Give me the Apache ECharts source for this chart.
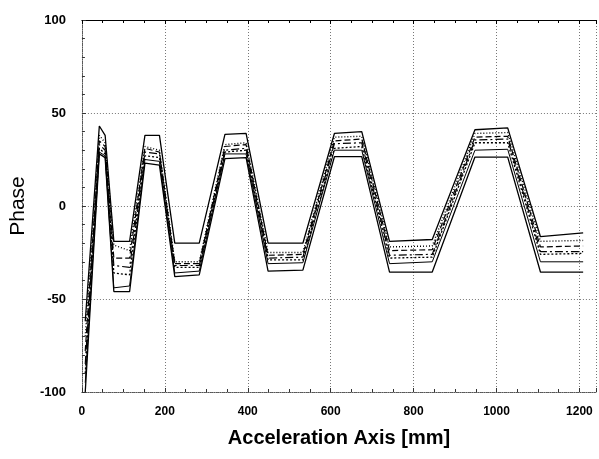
<!DOCTYPE html>
<html>
<head>
<meta charset="utf-8">
<script src="https://cdn.jsdelivr.net/npm/echarts@6/dist/echarts.min.js"></script>
<style>
html,body{margin:0;padding:0;background:#fff;}
#chart{width:599px;height:459px;}
</style>
</head>
<body>
<div id="chart"></div>
<script>
// Shared x positions (mm) of the polyline vertices
var xPoints = [8, 42, 56, 77, 115, 152, 187, 224, 283, 345, 396, 449, 533, 609, 675, 742, 845, 948, 1027, 1106, 1209];
// Phase values for each curve
var line1 = [-62, 43, 38, -19, -19, 38, 38, -20, -20, 38.5, 39, -20, -20, 39, 40, -19, -18, 41, 42, -16.5, -14.5];
var line2 = [-70, 38, 34, -21, -24, 32, 30, -30, -30, 33, 34, -25, -25, 37, 37.5, -22, -21.5, 39, 39.5, -19, -18.5];
var line3 = [-78, 35, 32, -28, -28, 31, 29, -31, -31, 32, 33, -26.5, -26, 35, 36, -24, -23.5, 37, 37.5, -22, -21.5];
var line4 = [-85, 33, 30, -32, -33, 29, 28, -32, -32, 30, 31, -28, -27.5, 33.5, 34, -26.5, -26, 35.5, 36, -24.5, -24.5];
var line5 = [-90, 31, 28, -36, -37, 27, 26, -33, -33, 29, 30, -29, -29, 31, 32, -28, -27.5, 34, 34, -26, -25.5];
var line6 = [-95, 29, 27, -44, -43, 25, 24, -36, -35, 28, 28, -31, -30.5, 30, 30, -31, -30, 30, 30.5, -30, -30];
var line7 = [-100, 28, 26, -46, -46, 23, 22, -38, -37, 25.5, 26, -35, -34.5, 26.5, 26.5, -35.5, -35.5, 26.3, 26.3, -35.5, -35.5];

var curves = [line1, line2, line3, line4, line5, line6, line7];
var styles = [
  {type: 'solid', width: 1.3},
  {type: [1, 2], width: 1.4},
  {type: [6, 3], width: 1.2},
  {type: [8, 3, 2, 3], width: 1.2},
  {type: [2, 2], width: 1.3},
  {type: 'solid', width: 1},
  {type: 'solid', width: 1.3}
];

var xTicks = [0, 200, 400, 600, 800, 1000, 1200];

var series = curves.map(function (vals, i) {
  return {
    type: 'line',
    data: xPoints.map(function (x, j) { return [x, vals[j]]; }),
    symbol: 'none',
    lineStyle: {color: '#000', width: styles[i].width, type: styles[i].type},
    animation: false,
    z: 3
  };
});

var chart = echarts.init(document.getElementById('chart'), null, {renderer: 'canvas'});
var gridDotted = {show: true, lineStyle: {color: '#777', type: [1, 2], width: 1}};
chart.setOption({
  animation: false,
  backgroundColor: '#fff',
  grid: {left: 78, right: 0, top: 20, bottom: 67, containLabel: false},
  xAxis: [{
    type: 'value', min: 0, max: 1240, interval: 200, position: 'bottom',
    axisLine: {show: true, onZero: false, lineStyle: {color: '#555', type: [1, 1], width: 1}},
    axisTick: {show: true, inside: true, length: 4, lineStyle: {color: '#333'}},
    minorTick: {show: true, splitNumber: 4, length: 3, lineStyle: {color: '#333'}},
    splitLine: gridDotted,
    axisLabel: {
      margin: 14, color: '#000', fontFamily: 'Liberation Sans', fontWeight: 'bold', fontSize: 12,
      formatter: function (v) { return xTicks.indexOf(v) >= 0 ? String(v) : ''; }
    },
    name: 'Acceleration Axis [mm]', nameLocation: 'middle', nameGap: 36,
    nameTextStyle: {color: '#000', fontFamily: 'Liberation Sans', fontWeight: 'bold', fontSize: 20}
  }, {
    type: 'value', min: 0, max: 1240, interval: 200, position: 'top',
    axisLine: {show: true, onZero: false, lineStyle: {color: '#000', width: 1}},
    axisTick: {show: true, inside: true, length: 4, lineStyle: {color: '#000'}},
    minorTick: {show: true, splitNumber: 4, length: 3, lineStyle: {color: '#000'}},
    splitLine: {show: false},
    axisLabel: {show: false}
  }],
  yAxis: {
    type: 'value', min: -100, max: 100, interval: 50,
    axisLine: {show: true, onZero: false, lineStyle: {color: '#555', type: [1, 1], width: 1}},
    axisTick: {show: true, inside: true, length: 4, lineStyle: {color: '#333'}},
    minorTick: {show: true, splitNumber: 5, length: 3, lineStyle: {color: '#333'}},
    splitLine: gridDotted,
    axisLabel: {margin: 16, color: '#000', fontFamily: 'Liberation Sans', fontWeight: 'bold', fontSize: 13},
    name: 'Phase', nameLocation: 'middle', nameGap: 47, nameRotate: 90,
    nameTextStyle: {color: '#000', fontFamily: 'Liberation Sans', fontSize: 21}
  },
  series: series
});
</script>
</body>
</html>
